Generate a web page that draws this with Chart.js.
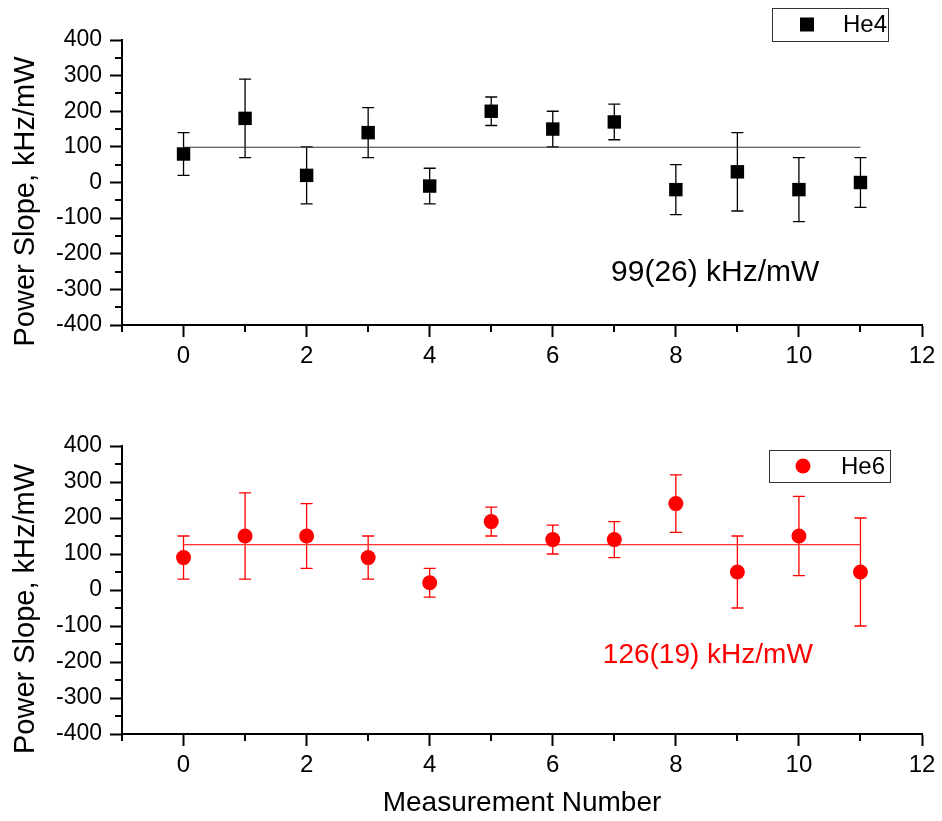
<!DOCTYPE html>
<html>
<head>
<meta charset="utf-8">
<script src="https://cdn.jsdelivr.net/npm/chart.js@4.4.0/dist/chart.umd.min.js"></script>
<style>
body { margin: 0; background: #fff; }
canvas { position: absolute; left: 0; }
#topChart { top: 0; }
#bottomChart { top: 400px; }
</style>
</head>
<body>
<canvas id="topChart" width="942" height="400"></canvas>
<canvas id="bottomChart" width="942" height="421"></canvas>
<script>
// measurement numbers and the two data sets
const measurement = [0, 1, 2, 3, 4, 5, 6, 7, 8, 9, 10, 11];
const he4Slope = [80, 180, 20, 140, -10, 200, 150, 170, -20, 30, -20, 0];
const he4Err = [60, 110, 80, 70, 50, 40, 50, 50, 70, 110, 90, 70];
const he6Slope = [90, 150, 150, 90, 20, 190, 140, 140, 240, 50, 150, 50];
const he6Err = [60, 120, 90, 60, 40, 40, 40, 50, 80, 100, 110, 150];

// weighted mean lines
const fitRange = [0, 11];
const he4Fit = 99;
const he6Fit = 126;
const he4Label = '99(26) kHz/mW';
const he6Label = '126(19) kHz/mW';

const yMinorTicks = [-350, -250, -150, -50, 50, 150, 250, 350];
const xMinorTicks = [-1, 1, 3, 5, 7, 9, 11];

const FONT = 'Liberation Sans, Arial, sans-serif';
Chart.defaults.font.family = FONT;
Chart.defaults.color = '#000';

// vertical error bars with caps, drawn under the points
const errorBars = {
    id: 'errorBars',
    beforeDatasetsDraw(chart, args, opts) {
        const { ctx } = chart;
        const x = chart.scales.x, y = chart.scales.y;
        ctx.save();
        ctx.strokeStyle = opts.color;
        ctx.lineWidth = 1.3;
        opts.values.forEach((v, i) => {
            const px = x.getPixelForValue(measurement[i]);
            const top = y.getPixelForValue(v + opts.errors[i]);
            const bot = y.getPixelForValue(v - opts.errors[i]);
            ctx.beginPath();
            ctx.moveTo(px, top); ctx.lineTo(px, bot);
            ctx.moveTo(px - 6, top); ctx.lineTo(px + 6, top);
            ctx.moveTo(px - 6, bot); ctx.lineTo(px + 6, bot);
            ctx.stroke();
        });
        ctx.restore();
    }
};

// short minor ticks, y title, legend box and result text
const extras = {
    id: 'extras',
    afterDraw(chart, args, opts) {
        const { ctx, chartArea } = chart;
        const x = chart.scales.x, y = chart.scales.y;
        ctx.save();
        ctx.strokeStyle = '#000';
        ctx.lineWidth = 2;
        ctx.beginPath();
        yMinorTicks.forEach(v => {
            const py = Math.round(y.getPixelForValue(v));
            ctx.moveTo(chartArea.left - 7, py); ctx.lineTo(chartArea.left, py);
        });
        xMinorTicks.forEach(v => {
            const px = Math.round(x.getPixelForValue(v));
            ctx.moveTo(px, chartArea.bottom); ctx.lineTo(px, chartArea.bottom + 7);
        });
        ctx.stroke();

        // y axis title, sits a bit below the middle like the original
        ctx.save();
        ctx.translate(34, (chartArea.top + chartArea.bottom) / 2 + 19);
        ctx.rotate(-Math.PI / 2);
        ctx.fillStyle = '#000';
        ctx.font = '29px ' + FONT;
        ctx.textAlign = 'center';
        ctx.textBaseline = 'alphabetic';
        ctx.fillText('Power Slope, kHz/mW', 0, 0);
        ctx.restore();

        // legend
        const lg = opts.legend;
        ctx.lineWidth = 1;
        ctx.strokeStyle = '#333';
        ctx.strokeRect(lg.box[0] + 0.5, lg.box[1] + 0.5, lg.box[2], lg.box[3]);
        ctx.fillStyle = opts.color;
        const cy = lg.box[1] + lg.box[3] / 2;
        if (lg.marker === 'rect') {
            ctx.fillRect(lg.markerX - 7, cy - 7, 14, 14);
        } else {
            ctx.beginPath();
            ctx.arc(lg.markerX, cy, 7.5, 0, Math.PI * 2);
            ctx.fill();
        }
        ctx.fillStyle = '#000';
        ctx.font = '24px ' + FONT;
        ctx.textBaseline = 'middle';
        ctx.textAlign = 'left';
        ctx.fillText(lg.text, lg.textX, cy + 1);

        // result
        ctx.fillStyle = opts.color;
        ctx.font = opts.noteSize + 'px ' + FONT;
        ctx.textAlign = 'center';
        ctx.fillText(opts.note, x.getPixelForValue(opts.noteAt[0]), y.getPixelForValue(opts.noteAt[1]));
        ctx.restore();
    }
};

function makePanel(id, cfg) {
    return new Chart(document.getElementById(id), {
        type: 'scatter',
        data: {
            datasets: [{
                data: measurement.map((m, i) => ({ x: m, y: cfg.values[i] })),
                pointStyle: cfg.marker,
                pointRadius: cfg.radius,
                pointHoverRadius: cfg.radius,
                backgroundColor: cfg.color,
                borderColor: cfg.color,
                borderWidth: 0
            }, {
                type: 'line',
                data: fitRange.map(v => ({ x: v, y: cfg.fit })),
                borderColor: cfg.lineColor,
                borderWidth: 1.2,
                pointRadius: 0,
                fill: false
            }]
        },
        options: {
            responsive: false,
            animation: false,
            events: [],
            layout: { padding: { left: 0, right: 20, top: cfg.padTop, bottom: 0 } },
            scales: {
                x: {
                    type: 'linear',
                    min: -1,
                    max: 12,
                    afterFit: s => { s.height = cfg.xHeight; },
                    ticks: {
                        stepSize: 2,
                        includeBounds: false,
                        maxRotation: 0,
                        padding: 5,
                        font: { family: 'Liberation Sans Narrow, Arial Narrow, ' + FONT, size: 24 }
                    },
                    grid: { drawOnChartArea: false, tickLength: 12, tickWidth: 2, tickColor: '#000' },
                    border: { color: '#000', width: 2 },
                    title: {
                        display: cfg.xTitle,
                        text: 'Measurement Number',
                        font: { size: 28 },
                        padding: { top: 1, bottom: 1 }
                    }
                },
                y: {
                    min: -400,
                    max: 400,
                    afterFit: s => { s.width = 122; },
                    ticks: { stepSize: 100, padding: 8, font: { size: 23 } },
                    grid: { drawOnChartArea: false, tickLength: 12, tickWidth: 2, tickColor: '#000' },
                    border: { color: '#000', width: 2 }
                }
            },
            plugins: {
                legend: { display: false },
                tooltip: { enabled: false },
                errorBars: { values: cfg.values, errors: cfg.errors, color: cfg.color },
                extras: {
                    color: cfg.color,
                    legend: cfg.legend,
                    note: cfg.note,
                    noteSize: cfg.noteSize,
                    noteAt: cfg.noteAt
                }
            }
        },
        plugins: [errorBars, extras]
    });
}

makePanel('topChart', {
    values: he4Slope,
    errors: he4Err,
    fit: he4Fit,
    color: '#000',
    lineColor: '#333',
    marker: 'rect',
    radius: 9.5,
    padTop: 40,
    xHeight: 75,
    xTitle: false,
    legend: { box: [772, 8, 116, 33], marker: 'rect', markerX: 807, textX: 843, text: 'He4' },
    note: he4Label,
    noteSize: 30,
    noteAt: [8.64, -252]
});

makePanel('bottomChart', {
    values: he6Slope,
    errors: he6Err,
    fit: he6Fit,
    color: '#ff0000',
    lineColor: '#ff3030',
    marker: 'circle',
    radius: 7.5,
    padTop: 46,
    xHeight: 87,
    xTitle: true,
    legend: { box: [769, 50, 121, 32], marker: 'circle', markerX: 803, textX: 841, text: 'He6' },
    note: he6Label,
    noteSize: 28,
    noteAt: [8.52, -180]
});
</script>
</body>
</html>
